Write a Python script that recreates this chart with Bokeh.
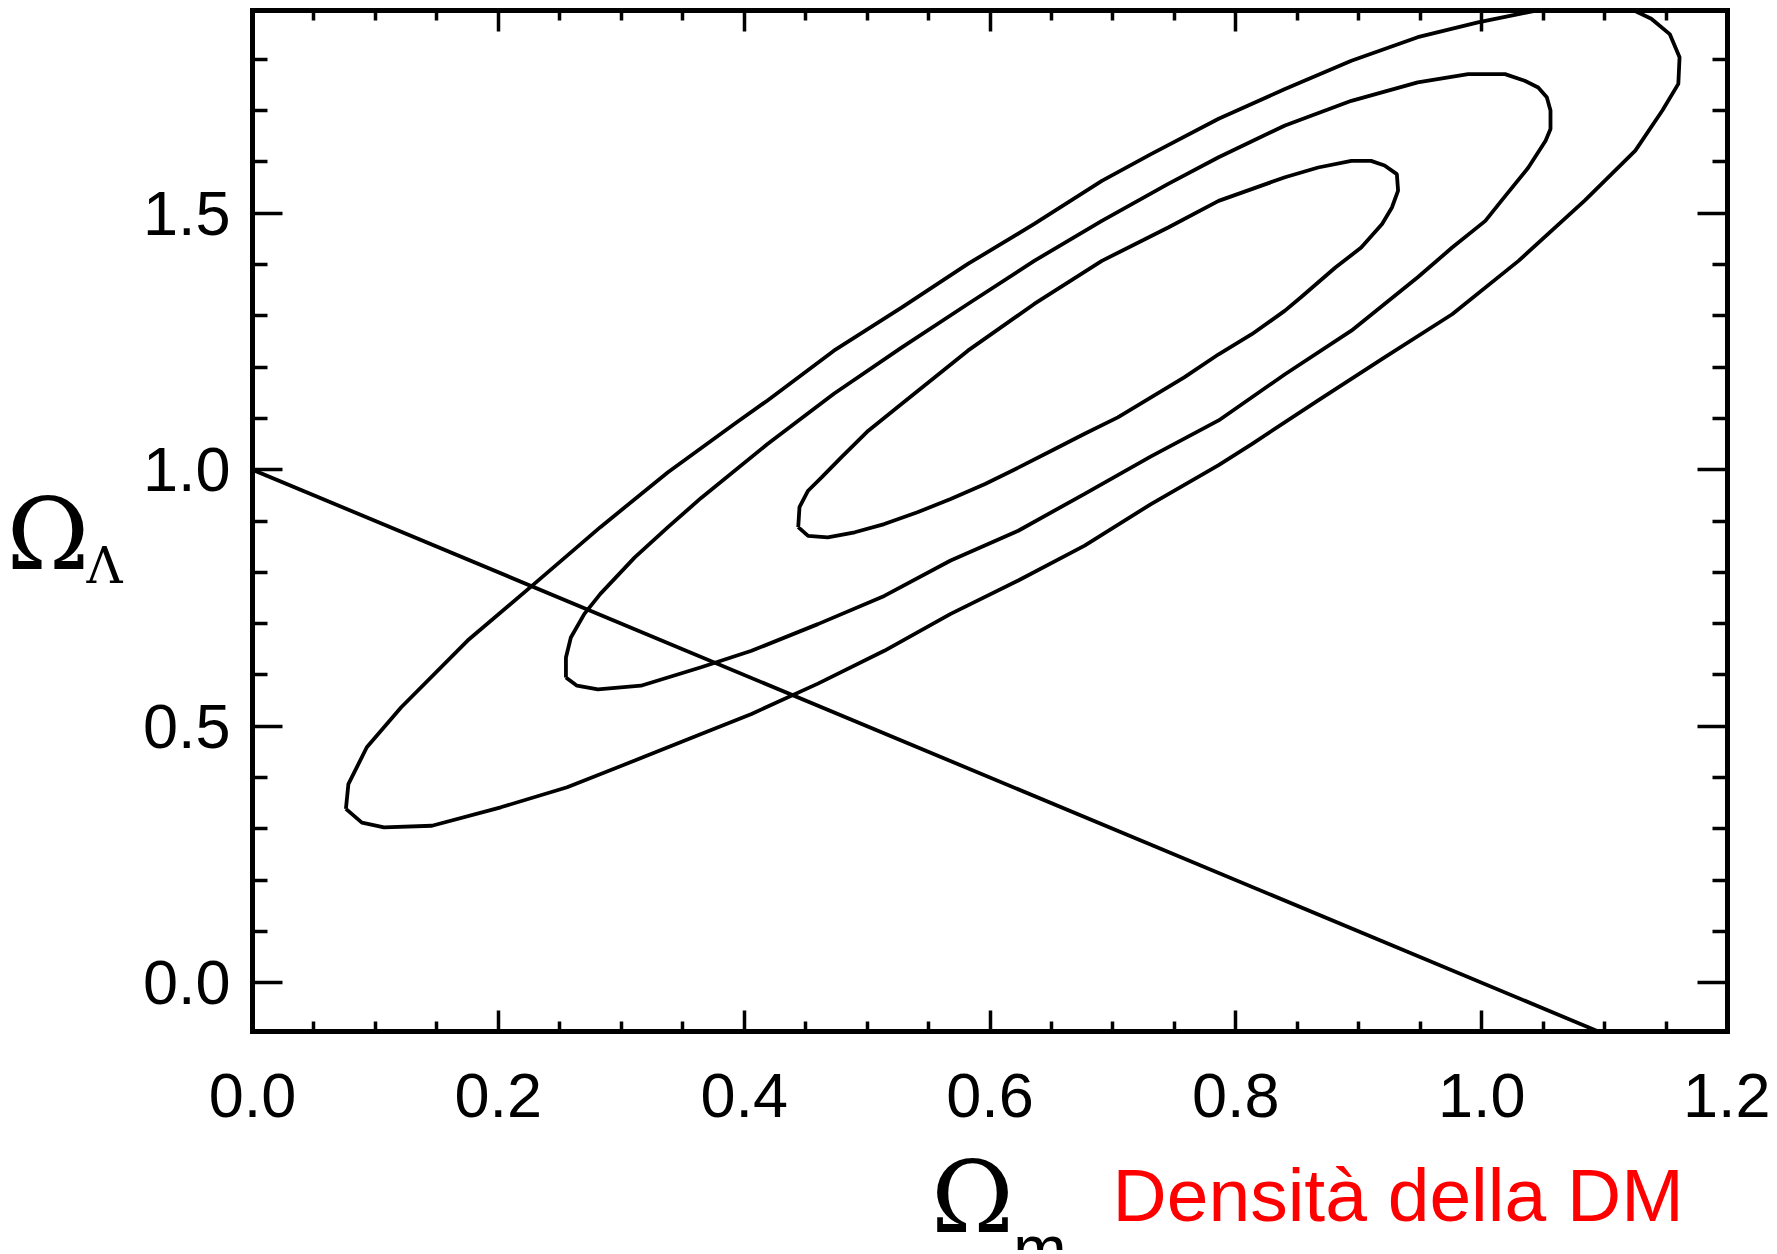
from bokeh.plotting import figure
from bokeh.models import LinearAxis, FixedTicker, Label, Range1d
from bokeh.embed import file_html
from bokeh.resources import INLINE

# ---- axis ticks / labels ----
x_major = [0.0, 0.2, 0.4, 0.6, 0.8, 1.0, 1.2]
x_labels = ["0.0", "0.2", "0.4", "0.6", "0.8", "1.0", "1.2"]
x_minor = [0.05, 0.1, 0.15, 0.25, 0.3, 0.35, 0.45, 0.5, 0.55, 0.65, 0.7, 0.75,
           0.85, 0.9, 0.95, 1.05, 1.1, 1.15]
y_major = [0.0, 0.5, 1.0, 1.5]
y_labels = ["0.0", "0.5", "1.0", "1.5"]
y_minor = [0.1, 0.2, 0.3, 0.4, 0.6, 0.7, 0.8, 0.9, 1.1, 1.2, 1.3, 1.4, 1.6, 1.7, 1.8]

# plotted box limits
X_MIN, X_MAX = 0.0, 1.2
Y_MIN, Y_MAX = -0.095, 1.895

# ---- confidence contours ----
outer_x = [0.076, 0.089, 0.107, 0.146, 0.202, 0.256, 0.311, 0.365, 0.406, 0.460,
           0.514, 0.568, 0.623, 0.677, 0.731, 0.786, 0.813, 0.867, 0.921, 0.976,
           1.030, 1.084, 1.125, 1.147, 1.160, 1.161, 1.153, 1.138, 1.124, 1.080,
           1.030, 0.997, 0.948, 0.894, 0.840, 0.786, 0.731, 0.691, 0.636, 0.582,
           0.528, 0.473, 0.419, 0.392, 0.338, 0.283, 0.229, 0.175, 0.121, 0.093,
           0.078, 0.076]
outer_y = [0.339, 0.312, 0.303, 0.306, 0.342, 0.381, 0.433, 0.485, 0.524, 0.583,
           0.647, 0.719, 0.784, 0.852, 0.933, 1.009, 1.050, 1.135, 1.219, 1.303,
           1.407, 1.525, 1.622, 1.700, 1.752, 1.804, 1.849, 1.879, 1.895, 1.912,
           1.888, 1.872, 1.843, 1.797, 1.742, 1.684, 1.615, 1.563, 1.479, 1.401,
           1.316, 1.232, 1.135, 1.089, 0.995, 0.888, 0.777, 0.667, 0.537, 0.459,
           0.387, 0.339]

middle_x = [0.255, 0.264, 0.281, 0.316, 0.365, 0.406, 0.460, 0.514, 0.568, 0.623,
            0.677, 0.731, 0.786, 0.840, 0.894, 0.948, 0.976, 1.003, 1.016, 1.038,
            1.052, 1.056, 1.056, 1.053, 1.046, 1.035, 1.019, 0.989, 0.948, 0.894,
            0.840, 0.786, 0.745, 0.691, 0.636, 0.582, 0.528, 0.473, 0.419, 0.365,
            0.338, 0.311, 0.283, 0.270, 0.259, 0.255, 0.255]
middle_y = [0.595, 0.579, 0.572, 0.579, 0.615, 0.647, 0.699, 0.754, 0.823, 0.881,
            0.953, 1.026, 1.096, 1.186, 1.271, 1.375, 1.433, 1.485, 1.524, 1.589,
            1.641, 1.664, 1.700, 1.726, 1.745, 1.758, 1.771, 1.771, 1.755, 1.719,
            1.671, 1.609, 1.557, 1.485, 1.407, 1.323, 1.238, 1.148, 1.050, 0.945,
            0.888, 0.829, 0.758, 0.719, 0.673, 0.634, 0.595]

inner_x = [0.444, 0.452, 0.468, 0.490, 0.514, 0.541, 0.568, 0.596, 0.623, 0.650,
           0.677, 0.704, 0.731, 0.758, 0.786, 0.813, 0.840, 0.853, 0.881, 0.902,
           0.919, 0.927, 0.932, 0.931, 0.921, 0.910, 0.894, 0.867, 0.840, 0.786,
           0.745, 0.691, 0.636, 0.582, 0.528, 0.501, 0.479, 0.463, 0.452, 0.445,
           0.444]
inner_y = [0.888, 0.871, 0.868, 0.878, 0.894, 0.917, 0.943, 0.972, 1.004, 1.037,
           1.070, 1.102, 1.141, 1.180, 1.225, 1.264, 1.310, 1.336, 1.394, 1.433,
           1.479, 1.511, 1.544, 1.576, 1.593, 1.602, 1.602, 1.589, 1.570, 1.524,
           1.472, 1.407, 1.323, 1.232, 1.128, 1.076, 1.024, 0.985, 0.959, 0.927,
           0.888]

# flat universe line  Omega_m + Omega_Lambda = 1 (until it meets the lower box edge)
flat_x = [0.0, 1.095]
flat_y = [1.0, -0.095]

FONT = "Liberation Sans"
SERIF = "DejaVu Serif"

# canvas / box geometry (pixels)
W, H = 1770, 1250
TOP, LEFT, RIGHT = 10, 252, 43
BOX_W, BOX_H = 1475, 1021
px_per_x = BOX_W / (X_MAX - X_MIN)
px_per_y = BOX_H / (Y_MAX - Y_MIN)
# the frame covers the whole canvas below TOP; the box is drawn by fixed axes
x_left = X_MIN - LEFT / px_per_x
x_right = X_MAX + RIGHT / px_per_x
y_bottom = Y_MAX - (H - TOP) / px_per_y

p = figure(width=W, height=H,
           x_range=Range1d(x_left, x_right), y_range=Range1d(y_bottom, Y_MAX),
           output_backend="svg", toolbar_location=None,
           min_border_left=0, min_border_right=0,
           min_border_top=TOP, min_border_bottom=0)
p.background_fill_color = "white"
p.border_fill_color = "white"
p.grid.visible = False
p.outline_line_color = None

xt = FixedTicker(ticks=x_major, minor_ticks=x_minor)
yt = FixedTicker(ticks=y_major, minor_ticks=y_minor)


def style(ax, major_in, minor_in, show_labels, standoff):
    ax.axis_line_color = "black"
    ax.axis_line_width = 5
    ax.axis_line_cap = "square"
    ax.major_tick_in = major_in
    ax.major_tick_out = 0
    ax.minor_tick_in = minor_in
    ax.minor_tick_out = 0
    ax.major_tick_line_width = 3.5
    ax.minor_tick_line_width = 3.5
    ax.major_tick_line_color = "black"
    ax.minor_tick_line_color = "black"
    if show_labels:
        ax.major_label_text_font = FONT
        ax.major_label_text_font_size = "63px"
        ax.major_label_text_color = "black"
        ax.major_label_standoff = standoff
    else:
        ax.major_label_text_font_size = "1px"
        ax.major_label_text_color = None
        ax.major_label_standoff = 0


xb = p.xaxis[0]
xb.ticker = xt
xb.fixed_location = Y_MIN
xb.bounds = (X_MIN, X_MAX)
xb.major_label_overrides = {v: s for v, s in zip(x_major, x_labels)}
style(xb, 21, 10, True, 42)

yl = p.yaxis[0]
yl.ticker = yt
yl.fixed_location = X_MIN
yl.bounds = (Y_MIN, Y_MAX)
yl.major_label_overrides = {v: s for v, s in zip(y_major, y_labels)}
style(yl, 30, 15, True, 22)

xtop = LinearAxis(ticker=xt, bounds=(X_MIN, X_MAX))
style(xtop, 21, 10, False, 0)
p.add_layout(xtop, "above")

yright = LinearAxis(ticker=yt, bounds=(Y_MIN, Y_MAX), fixed_location=X_MAX)
style(yright, 30, 15, False, 0)
p.add_layout(yright, "right")

lw = 3.8
p.line(outer_x, outer_y, line_color="black", line_width=lw)
p.line(middle_x, middle_y, line_color="black", line_width=lw)
p.line(inner_x, inner_y, line_color="black", line_width=lw)
p.line(flat_x, flat_y, line_color="black", line_width=lw)

# axis titles (Bokeh's alphabetic anchor sits ~0.38 em below the glyph baseline,
# so the anchors are raised accordingly)
p.add_layout(Label(x=-0.2002, y=0.873, text="Ω", text_font=SERIF,
                   text_font_size="100px", text_color="black",
                   text_baseline="alphabetic", text_align="left"))
p.add_layout(Label(x=-0.135, y=0.813, text="Λ", text_font=SERIF,
                   text_font_size="50px", text_color="black",
                   text_baseline="alphabetic", text_align="left"))
p.add_layout(Label(x=0.552, y=-0.4185, text="Ω", text_font=SERIF,
                   text_font_size="100px", text_color="black",
                   text_baseline="alphabetic", text_align="left"))
p.add_layout(Label(x=0.619, y=-0.518, text="m", text_font=FONT,
                   text_font_size="64px", text_color="black",
                   text_baseline="alphabetic", text_align="left"))
p.add_layout(Label(x=0.6997, y=-0.4127, text="Densità della DM", text_font=FONT,
                   text_font_size="75px", text_color="#ff0000",
                   text_baseline="alphabetic", text_align="left"))

open("out.html", "w").write(file_html(p, INLINE))
